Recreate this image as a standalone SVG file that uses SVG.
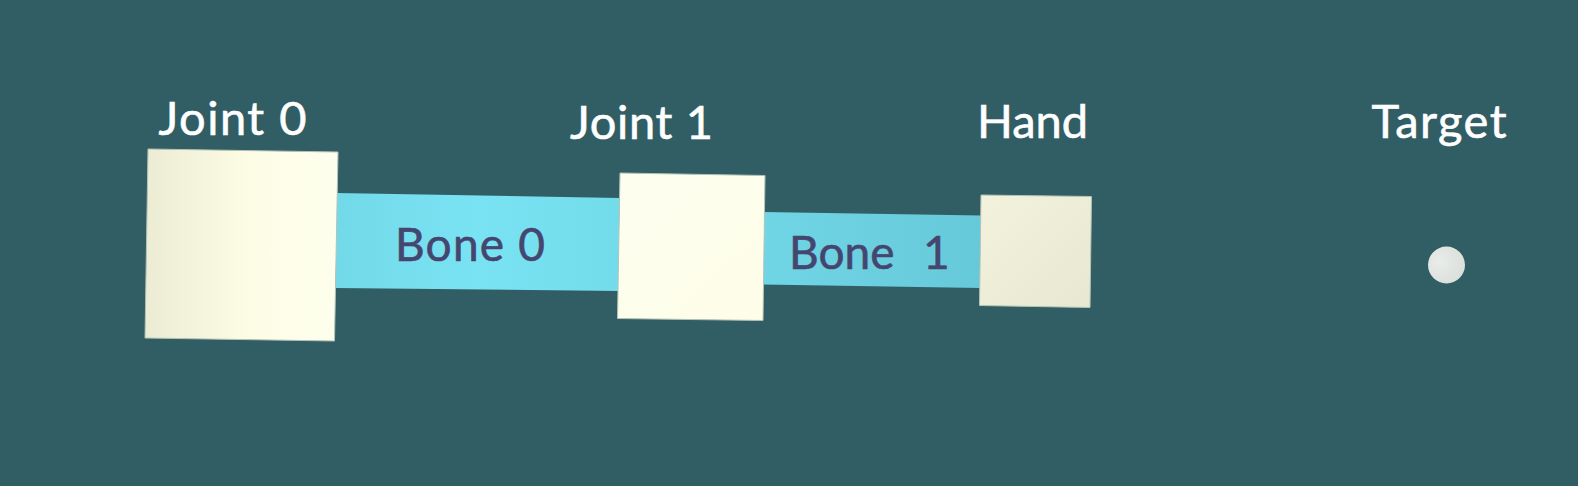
<svg xmlns="http://www.w3.org/2000/svg" width="1578" height="486" viewBox="0 0 1578 486">
  <style>
    .label { font-family: "Lato", "Open Sans", sans-serif; font-size: 47px; fill: #ffffff; stroke: #ffffff; stroke-width: 0.6px; text-anchor: middle; }
    .bonetext { font-family: "Lato", "Open Sans", sans-serif; font-size: 46px; fill: #45466f; stroke: #45466f; stroke-width: 0.6px; text-anchor: middle; }
    .joint { stroke: #b4c2b6; stroke-width: 1; }
  </style>
  <defs>
    <linearGradient id="g0" x1="0" y1="0" x2="1" y2="0">
      <stop offset="0" stop-color="#ecebd4"/>
      <stop offset="0.55" stop-color="#fdfde6"/>
      <stop offset="1" stop-color="#fefeee"/>
    </linearGradient>
    <linearGradient id="g1" x1="0" y1="0" x2="1" y2="1">
      <stop offset="0" stop-color="#fefef0"/>
      <stop offset="1" stop-color="#fdfde8"/>
    </linearGradient>
    <linearGradient id="g2" x1="0" y1="0" x2="1" y2="1">
      <stop offset="0" stop-color="#f3f2dc"/>
      <stop offset="1" stop-color="#e8e8d2"/>
    </linearGradient>
    <linearGradient id="b0" x1="0" y1="0" x2="1" y2="0">
      <stop offset="0" stop-color="#72d9e8"/>
      <stop offset="0.5" stop-color="#7ae3f3"/>
      <stop offset="1" stop-color="#72dceb"/>
    </linearGradient>
    <linearGradient id="b1" x1="0" y1="0" x2="1" y2="0">
      <stop offset="0" stop-color="#70d5e4"/>
      <stop offset="1" stop-color="#66c9da"/>
    </linearGradient>
    <radialGradient id="t" cx="0.3" cy="0.4" r="0.8">
      <stop offset="0" stop-color="#e9ece9"/>
      <stop offset="1" stop-color="#d9dedb"/>
    </radialGradient>
  </defs>
  <rect x="0" y="0" width="1578" height="486" fill="#315e64"/>

  <g id="connectors">
    <g id="bone0">
      <polygon points="336,193 619,198 619,291 336,288" fill="url(#b0)"/>
      <text class="bonetext" x="470" y="261" textLength="150" lengthAdjust="spacing">Bone 0</text>
    </g>
    <g id="bone1">
      <polygon points="763,212 981,215.5 981,288 763,284.5" fill="url(#b1)"/>
      <text class="bonetext" x="789" y="269" style="text-anchor:start">Bone <tspan x="923">1</tspan></text>
    </g>
  </g>

  <g id="joint0">
    <polygon class="joint" points="148,149 338,152 334.5,341 145,338" fill="url(#g0)"/>
    <text class="label" x="232.5" y="135" textLength="148" lengthAdjust="spacing">Joint 0</text>
  </g>
  <g id="joint1">
    <polygon class="joint" points="620,173 765,175.5 763,320.5 617.5,318.5" fill="url(#g1)"/>
    <text class="label" x="641.5" y="139" textLength="143" lengthAdjust="spacing">Joint 1</text>
  </g>
  <g id="hand">
    <polygon class="joint" points="981,195 1091.5,196.5 1090,307.5 979.5,305.5" fill="url(#g2)"/>
    <text class="label" x="1032.5" y="138" textLength="111" lengthAdjust="spacing">Hand</text>
  </g>
  <g id="target">
    <circle cx="1446.5" cy="265" r="18.5" fill="url(#t)"/>
    <text class="label" x="1439" y="137.5" textLength="135" lengthAdjust="spacing">Target</text>
  </g>
</svg>
